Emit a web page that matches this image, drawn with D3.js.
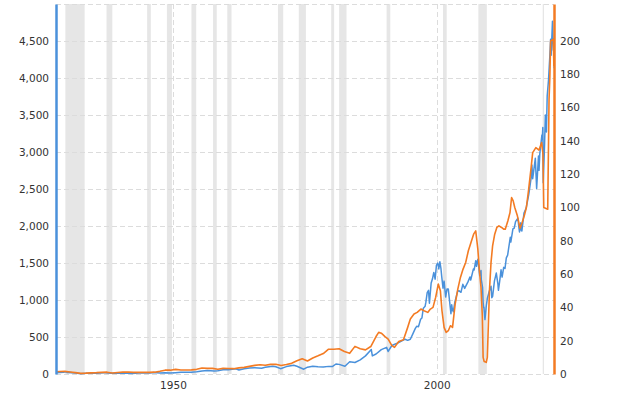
<!DOCTYPE html>
<html>
<head>
<meta charset="utf-8">
<script src="https://cdn.jsdelivr.net/npm/d3@7"></script>
<style>
  body { margin: 0; background: #fff; }
  svg { display: block; }
  .axis text { fill: #333; font-size: 10.5px; font-family: "DejaVu Sans", Verdana, sans-serif; }
</style>
</head>
<body>
<svg id="chart" width="624" height="394"></svg>
<script>
// recession periods (decimal years)
const recStart = [1929.6, 1937.4, 1945.1, 1948.85, 1953.5, 1957.6, 1960.3, 1969.9, 1973.85, 1980.0, 1981.5, 1990.5, 2001.2, 2007.9, 2020.1];
const recEnd   = [1933.25, 1938.5, 1945.8, 1949.8, 1954.4, 1958.3, 1961.1, 1970.9, 1975.2, 1980.55, 1982.9, 1991.2, 2001.9, 2009.5, 2020.35];

// S&P 500 index (left axis)
const spYears = [1927.83, 1928.5, 1929.2, 1929.7, 1929.9, 1930.3, 1930.9, 1931.5, 1932.5, 1933.5, 1934.5, 1935.5, 1936.9, 1937.2, 1938.2, 1939.5, 1940.5, 1941.5, 1942.3, 1943.5, 1944.5, 1945.5, 1946.4, 1947.5, 1948.5, 1949.5, 1950.5, 1951.5, 1952.5, 1953.5, 1954.5, 1955.5, 1956.5, 1957.8, 1958.5, 1959.5, 1960.5, 1961.9, 1962.5, 1963.5, 1964.5, 1965.5, 1966.8, 1967.5, 1968.9, 1969.5, 1970.4, 1971.5, 1972.9, 1973.5, 1974.8, 1975.5, 1976.5, 1977.5, 1978.5, 1979.5, 1980.2, 1980.9, 1981.5, 1982.6, 1983.5, 1984.5, 1985.5, 1986.5, 1987.6, 1987.8, 1988.5, 1989.5, 1990.5, 1990.8, 1991.5, 1992.5, 1993.5, 1994.0, 1994.5, 1995.0, 1995.5, 1995.95,
  1996.2, 1996.55, 1996.95, 1997.2, 1997.45, 1997.6, 1997.8, 1997.95, 1998.2, 1998.45, 1998.62, 1998.95, 1999.2, 1999.45, 1999.7, 1999.95, 2000.2, 2000.4, 2000.6, 2000.8, 2000.95, 2001.2, 2001.4, 2001.7, 2001.95, 2002.2, 2002.55, 2002.7, 2002.85, 2002.95, 2003.15, 2003.45, 2003.95, 2004.2, 2004.6, 2004.95, 2005.3, 2005.95, 2006.3, 2006.45, 2006.95, 2007.1, 2007.4, 2007.55, 2007.7, 2007.8, 2007.95, 2008.15, 2008.4, 2008.45, 2008.7, 2008.8, 2008.9, 2008.95, 2009.15, 2009.4, 2009.6, 2009.95,
  2010.3, 2010.45, 2010.6, 2010.95, 2011.3, 2011.6, 2011.7, 2011.95, 2012.2, 2012.4, 2012.7, 2012.95, 2013.2, 2013.45, 2013.95, 2014.05, 2014.45, 2014.7, 2014.95, 2015.4, 2015.6, 2015.7, 2015.95, 2016.05, 2016.15, 2016.55, 2016.95, 2017.45, 2017.95, 2018.05, 2018.2, 2018.7, 2018.95, 2019.3, 2019.4, 2019.55, 2019.95, 2020.05, 2020.12, 2020.2, 2020.45, 2020.6, 2020.8, 2020.95, 2021.2, 2021.45, 2021.6, 2021.7, 2021.95, 2022.05, 2022.12, 2022.2, 2022.28];
const spValues = [17.7, 19.5, 24, 31.7, 21.5, 25, 16, 14, 4.8, 10.9, 9.5, 11, 17.5, 18.1, 8.5, 11, 10, 10, 7.8, 12, 12.5, 15, 19, 15, 16, 14, 18, 22, 25, 24, 30, 42, 47, 40, 45, 58, 56, 71, 55, 70, 82, 86, 78, 92, 106, 97, 72, 100, 118, 105, 65, 92, 104, 98, 96, 103, 100, 135, 130, 105, 165, 155, 190, 245, 330, 245, 270, 330, 360, 305, 385, 415, 450, 470, 455, 470, 545, 616,
  645, 640, 740, 757, 885, 900, 915, 970, 1100, 1130, 957, 1229, 1286, 1373, 1282, 1469, 1499, 1420, 1517, 1429, 1320, 1160, 1255, 1040, 1148, 1147, 912, 815, 936, 880, 841, 975, 1112, 1126, 1104, 1212, 1157, 1248, 1311, 1270, 1418, 1406, 1530, 1455, 1527, 1549, 1468, 1330, 1400, 1280, 1166, 969, 896, 903, 735, 919, 1020, 1115,
  1187, 1031, 1049, 1258, 1364, 1219, 1131, 1258, 1408, 1310, 1441, 1426, 1569, 1606, 1848, 1783, 1960, 1972, 2059, 2107, 1972, 1920, 2044, 1940, 1932, 2174, 2239, 2423, 2674, 2824, 2640, 2914, 2507, 2946, 2752, 2980, 3231, 3226, 3330, 2585, 3100, 3500, 3270, 3756, 3973, 4298, 4523, 4308, 4766, 4516, 4374, 4530, 4132];

// S&P 500 earnings per share (right axis)
const epsYears = [1927.83, 1928.5, 1929.5, 1930.5, 1931.5, 1932.5, 1933.5, 1934.5, 1935.5, 1936.5, 1937.5, 1938.5, 1939.5, 1940.5, 1941.5, 1942.5, 1943.5, 1944.5, 1945.5, 1946.5, 1947.5, 1948.5, 1949.5, 1950.5, 1951.5, 1952.5, 1953.5, 1954.5, 1955.5, 1956.5, 1957.5, 1958.5, 1959.5, 1960.5, 1961.5, 1962.5, 1963.5, 1964.5, 1965.5, 1966.5, 1967.5, 1968.5, 1969.5, 1970.5, 1971.5, 1972.5, 1973.5, 1974.5, 1975.5, 1976.5, 1977.5, 1978.5, 1979.5, 1980.5, 1981.5, 1982.5, 1983.5, 1984.5, 1985.5, 1986.5, 1987.5, 1988.5, 1989.0, 1989.5, 1990.2, 1990.8, 1991.5, 1992.0, 1992.8, 1993.7, 1994.5, 1995.0, 1995.7, 1996.3, 1997.0, 1997.6, 1998.3, 1998.8, 1999.3, 1999.8,
  2000.3, 2000.7, 2001.0, 2001.4, 2001.8, 2002.2, 2002.6, 2003.0, 2003.5, 2004.0, 2004.5, 2005.0, 2005.5, 2006.0, 2006.5, 2007.0, 2007.4, 2007.8, 2008.1, 2008.4, 2008.65, 2008.8, 2009.0, 2009.4, 2009.6, 2009.8, 2010.0, 2010.3, 2010.6, 2011.0, 2011.4, 2011.8, 2012.3, 2012.7, 2013.0, 2013.5, 2013.9, 2014.2, 2014.5, 2014.8, 2015.3, 2015.8, 2016.2, 2016.6, 2017.0, 2017.4, 2017.9, 2018.2, 2018.8, 2019.4, 2019.9, 2020.15, 2020.3, 2021.05, 2021.3, 2021.45, 2021.6, 2022.1, 2022.22];
const epsValues = [1.35, 1.5, 1.6, 1.2, 0.8, 0.4, 0.5, 0.7, 0.8, 1.0, 1.1, 0.6, 0.9, 1.1, 1.2, 1.0, 0.95, 0.95, 0.95, 1.1, 1.6, 2.3, 2.3, 2.8, 2.4, 2.4, 2.5, 2.8, 3.6, 3.4, 3.4, 2.9, 3.4, 3.3, 3.2, 3.7, 4.0, 4.6, 5.2, 5.6, 5.3, 5.8, 5.8, 5.1, 5.7, 6.4, 7.9, 9.2, 7.8, 9.6, 10.9, 12.3, 14.9, 14.9, 15.2, 13.5, 12.4, 16.6, 15.2, 14.5, 16.5, 22.5, 25.0, 24.5, 22.5, 21.0, 17.0, 16.0, 19.5, 20.5, 28, 33, 36, 37, 39, 38, 37, 39, 40, 46,
  54, 50, 38, 28, 25, 26, 29, 28, 42, 51, 58, 63, 67, 74, 79, 84, 86, 75, 62, 52, 35, 10, 7.5, 7, 10, 30, 50, 67, 77, 84, 88, 89, 88, 87, 87, 92, 97, 106, 104, 100, 95, 87.5, 91, 95, 100, 110, 124, 133, 136, 134.5, 139, 132, 100, 99, 165, 178, 200, 201, 185];

const leftTicks = d3.range(0, 5000, 500);
const rightTicks = d3.range(0, 201, 20);
const yearTicks = [1950, 2000];

const W = 624, H = 394;
const m = { left: 56, right: 70, top: 4, bottom: 20 };
const svg = d3.select('#chart');

const x = d3.scaleLinear().domain([1927.82, 2022.24]).range([m.left, W - m.right]);
const yL = d3.scaleLinear().domain([0, 5000]).range([H - m.bottom, m.top]);
const yR = d3.scaleLinear().domain([0, 5000 / 22.5]).range([H - m.bottom, m.top]);

// recession bands
svg.append('g')
  .selectAll('rect')
  .data(recStart.map((s, i) => [s, recEnd[i]]))
  .join('rect')
  .attr('x', d => x(d[0]))
  .attr('width', d => x(d[1]) - x(d[0]))
  .attr('y', m.top)
  .attr('height', H - m.bottom - m.top)
  .attr('fill', '#e6e6e6');

// grid lines
const grid = svg.append('g').attr('stroke', '#dcdcdc').attr('stroke-dasharray', '5,3');
grid.selectAll('.h')
  .data(d3.range(0, 5001, 500))
  .join('line')
  .attr('x1', m.left).attr('x2', W - m.right)
  .attr('y1', d => yL(d) + 0.5).attr('y2', d => yL(d) + 0.5);
grid.selectAll('.v')
  .data(yearTicks)
  .join('line')
  .attr('x1', d => Math.round(x(d)) + 0.5).attr('x2', d => Math.round(x(d)) + 0.5)
  .attr('y1', m.top).attr('y2', H - m.bottom);

// series
const sp = spYears.map((t, i) => [t, spValues[i]]);
const eps = epsYears.map((t, i) => [t, epsValues[i]]);

svg.append('path')
  .datum(sp)
  .attr('fill', 'none')
  .attr('stroke', '#4a91db')
  .attr('stroke-width', 1.5)
  .attr('stroke-linejoin', 'round')
  .attr('d', d3.line().x(d => x(d[0])).y(d => yL(d[1])));

svg.append('path')
  .datum(eps)
  .attr('fill', 'none')
  .attr('stroke', '#f37b23')
  .attr('stroke-width', 1.6)
  .attr('stroke-linejoin', 'round')
  .attr('d', d3.line().x(d => x(d[0])).y(d => yR(d[1])));

// axes
const axL = svg.append('g')
  .attr('class', 'axis')
  .attr('transform', `translate(${m.left},0)`)
  .call(d3.axisLeft(yL).tickValues(leftTicks).tickFormat(d3.format(',')).tickSize(0).tickPadding(7));
axL.select('.domain').attr('stroke', '#4a91db').attr('stroke-width', 2.5);

const axR = svg.append('g')
  .attr('class', 'axis')
  .attr('transform', `translate(${W - m.right},0)`)
  .call(d3.axisRight(yR).tickValues(rightTicks).tickSize(0).tickPadding(6));
axR.select('.domain').attr('stroke', '#f37b23').attr('stroke-width', 2.5);

const axB = svg.append('g')
  .attr('class', 'axis')
  .attr('transform', `translate(0,${H - m.bottom})`)
  .call(d3.axisBottom(x).tickValues(yearTicks).tickFormat(d3.format('d')).tickSize(0).tickPadding(8));
axB.select('.domain').remove();
</script>
</body>
</html>
